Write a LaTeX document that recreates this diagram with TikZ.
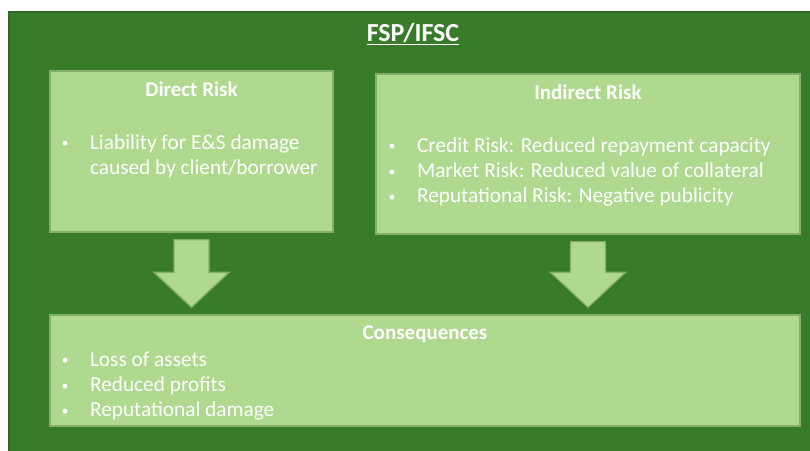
\documentclass[tikz,border=0pt]{standalone}
\usepackage{fontspec}
\setmainfont{Carlito}
\usetikzlibrary{positioning,calc}
\definecolor{framegreen}{HTML}{387C2B}
\definecolor{frameline}{HTML}{2E6A23}
\definecolor{boxgreen}{HTML}{AED98F}
\definecolor{boxline}{HTML}{84AE6E}
\newcommand{\bul}{\makebox[28.5pt][l]{\raisebox{1.5pt}{\scalebox{0.65}{\textbullet}}}}
\begin{document}
\begin{tikzpicture}[x=1pt,y=-1pt,
  riskbox/.style={draw=boxline,fill=boxgreen,line width=1.3pt,inner sep=0pt},
  head/.style={text=white,font=\fontsize{21}{25}\selectfont\bfseries,anchor=base,inner sep=0pt},
  items/.style={text=white,font=\fontsize{21.3}{25.2}\selectfont,anchor=base west,inner sep=0pt},
  bigarrow/.style={draw=boxline,fill=boxgreen,line width=1.3pt,line join=miter}]
\useasboundingbox (0,0) rectangle (810,450);
\fill[framegreen] (9,12) rectangle (814,456);
\draw[frameline,line width=1.5pt] (9,456) -- (9,12) -- (814,12);
\node[head,font=\fontsize{26}{30}\selectfont\bfseries] (fsp) at (413,41.5) {\underline{FSP/IFSC}};
\node[riskbox,minimum width=283,minimum height=161] (direct) at (191.5,151.5) {};
\node[riskbox,minimum width=424,minimum height=160] (indirect) at (588,154) {};
\node[riskbox,minimum width=750,minimum height=111] (conseq) at (425,370.5) {};
\foreach \src in {direct,indirect}
  \draw[bigarrow] ($(\src.south)+(-17.5,7)$) -- ($(\src.south)+(17.5,7)$)
    -- ($(\src.south |- conseq.north)+(17.5,-42)$) -- ++(20,0)
    -- ($(\src.south |- conseq.north)+(0,-7)$) -- ++(-37.5,-35) -- ++(20,0) -- cycle;
\node[head] (dirhead) at ($(direct.north)+(0,26)$) {Direct Risk};
\node[head] (indhead) at ($(indirect.north)+(0,26)$) {Indirect Risk};
\node[head] (conhead) at ($(conseq.north)+(0,25)$) {Consequences};
\node[items] (dirlist) at ($(direct.north west)+(12,79)$)
  {\begin{tabular}[t]{@{}l@{}}\bul Liability for E\&S damage\\ \hspace{28.5pt}caused by client/borrower\end{tabular}};
\node[items] (indlist) at ($(indirect.north west)+(13,79)$)
  {\begin{tabular}[t]{@{}l@{}}\bul Credit Risk: Reduced repayment capacity\\ \bul Market Risk: Reduced value of collateral\\ \bul Reputational Risk: Negative publicity\end{tabular}};
\node[items] (conlist) at ($(conseq.north west)+(12,52)$)
  {\begin{tabular}[t]{@{}l@{}}\bul Loss of assets\\ \bul Reduced profits\\ \bul Reputational damage\end{tabular}};
\end{tikzpicture}
\end{document}
